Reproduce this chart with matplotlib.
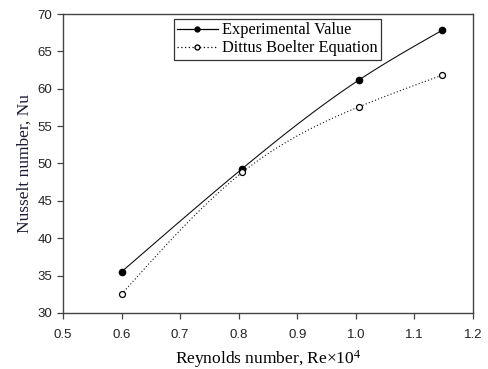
import numpy as np
import matplotlib
matplotlib.use("Agg")
import matplotlib.pyplot as plt

# data
re_x = [0.600, 0.806, 1.006, 1.147]
nu_exp = [35.5, 49.3, 61.2, 67.8]
nu_db = [32.5, 48.8, 57.6, 61.8]


def spline(x, y, n=200):
    # natural cubic spline, only used to draw the smooth line
    x = np.asarray(x, float)
    y = np.asarray(y, float)
    k = len(x)
    h = np.diff(x)
    A = np.zeros((k, k))
    b = np.zeros(k)
    A[0, 0] = A[-1, -1] = 1
    for i in range(1, k - 1):
        A[i, i - 1] = h[i - 1]
        A[i, i] = 2 * (h[i - 1] + h[i])
        A[i, i + 1] = h[i]
        b[i] = 6 * ((y[i + 1] - y[i]) / h[i] - (y[i] - y[i - 1]) / h[i - 1])
    M = np.linalg.solve(A, b)
    xs = np.linspace(x[0], x[-1], n)
    idx = np.clip(np.searchsorted(x, xs) - 1, 0, k - 2)
    t0 = x[idx]
    t1 = x[idx + 1]
    hh = t1 - t0
    ys = (M[idx] * (t1 - xs) ** 3 / (6 * hh) + M[idx + 1] * (xs - t0) ** 3 / (6 * hh)
          + (y[idx] / hh - M[idx] * hh / 6) * (t1 - xs)
          + (y[idx + 1] / hh - M[idx + 1] * hh / 6) * (xs - t0))
    return xs, ys


serif = "Liberation Serif"
sans = "Liberation Sans"
plt.rcParams["mathtext.fontset"] = "custom"
plt.rcParams["mathtext.rm"] = serif
plt.rcParams["mathtext.it"] = serif + ":italic"

fig = plt.figure(figsize=(4.88, 3.69), dpi=100)
ax = fig.add_axes([0.129, 0.152, 0.840, 0.810])

xs, ys = spline(re_x, nu_exp)
ax.plot(xs, ys, color="#111111", lw=0.8)
ax.plot(re_x, nu_exp, "o", color="black", ms=4.5)
xs, ys = spline(re_x, nu_db)
ax.plot(xs, ys, color="#111111", lw=0.8, ls=(0, (1, 2)))
ax.plot(re_x, nu_db, "o", mfc="white", mec="black", ms=4.3, mew=0.9)

# legend proxies
h1, = ax.plot([], [], "-o", color="black", lw=0.9, ms=3.5)
h2, = ax.plot([], [], "o", ls=(0, (1, 2)), color="black", mfc="white", lw=0.9, ms=3.5)
leg = ax.legend([h1, h2], ["Experimental Value", "Dittus Boelter Equation"],
                loc="upper left", bbox_to_anchor=(0.270, 0.983),
                prop={"family": serif, "size": 11.8}, frameon=True, fancybox=False,
                borderpad=0.2, labelspacing=0.12, handlelength=2.5,
                handletextpad=0.25, borderaxespad=0)
leg.get_frame().set_edgecolor("black")
leg.get_frame().set_linewidth(0.9)

ax.set_xlim(0.5, 1.2)
ax.set_ylim(30, 70)
ax.set_xticks(np.arange(0.5, 1.21, 0.1))
ax.set_yticks(np.arange(30, 71, 5))
ax.set_xticklabels(["%.1f" % v for v in np.arange(0.5, 1.21, 0.1)])
for lab in ax.get_xticklabels() + ax.get_yticklabels():
    lab.set_fontfamily(sans)
    lab.set_fontsize(9.5)
    lab.set_color("#222222")
ax.tick_params(direction="out", length=4, width=0.9, color="#444444")
ax.tick_params(axis="x", pad=7.5)
for s in ax.spines.values():
    s.set_color("#444444")
    s.set_linewidth(1.0)

ax.set_xlabel("Reynolds number, Re\u00d710$^{4}$", family=serif, fontsize=12.5, labelpad=5)
ax.set_ylabel("Nusselt number, Nu", family=serif, fontsize=12.5, color="#1a1a33", labelpad=4)

fig.savefig("out.png", dpi=100)
